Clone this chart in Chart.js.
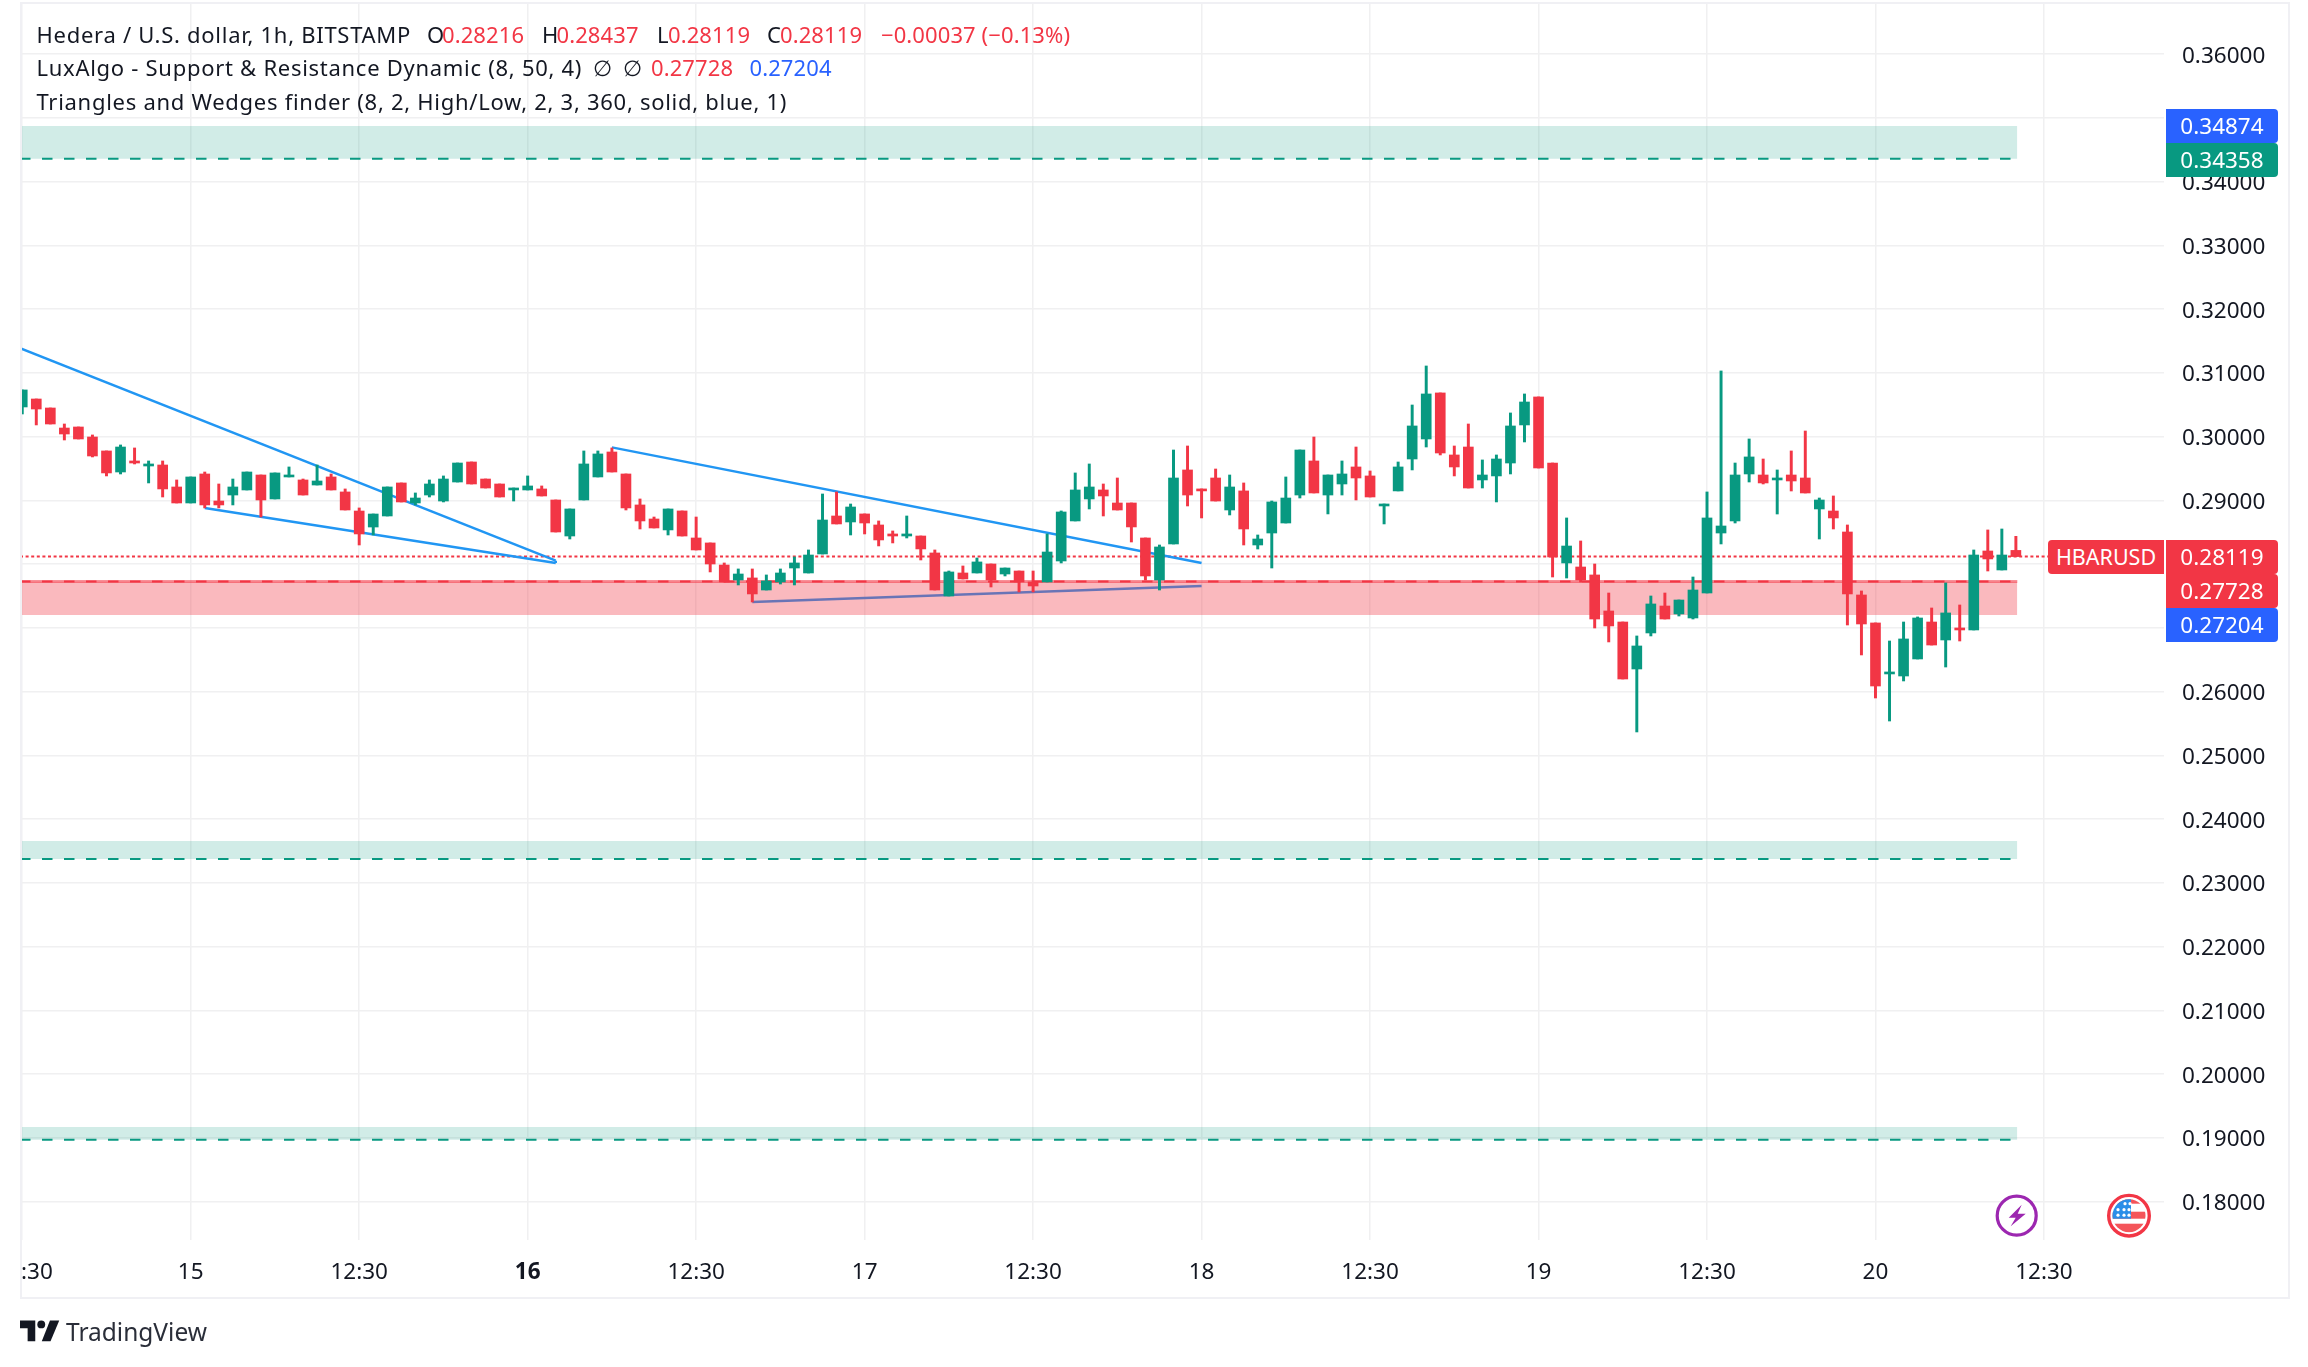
<!DOCTYPE html>
<html>
<head>
<meta charset="utf-8">
<script src="https://cdn.jsdelivr.net/npm/chart.js@4"></script>
<style>
html,body{margin:0;padding:0;background:#fff;width:2308px;height:1367px;overflow:hidden}
#wrap{position:relative;width:2308px;height:1367px}
canvas{position:absolute;left:0;top:0}
#frame{position:absolute;left:20px;top:2px;width:2266px;height:1293px;border:2px solid #f0f0f4;pointer-events:none}
.t{position:absolute;font-family:"Noto Sans",sans-serif;font-size:22px;line-height:34px;white-space:nowrap;color:#131722;letter-spacing:.72px}
.r{color:#f23645;letter-spacing:.1px}.b{color:#2962ff;letter-spacing:.1px}
.tag{position:absolute;height:34px;line-height:34px;color:#fff;font-family:"Noto Sans",sans-serif;font-size:22.5px;white-space:nowrap}
.val{left:2166px;width:112px;padding-left:0;text-align:center;border-radius:0 4px 4px 0}
</style>
</head>
<body>
<div id="wrap">
<canvas id="c" width="2308" height="1367"></canvas>
<div id="frame"></div>
<div id="legend"></div>
<div id="tags"></div>
<svg style="position:absolute;left:0;top:0;pointer-events:none" width="2308" height="1367">
  <g transform="translate(2016.7,1215.7)">
    <circle r="19.5" fill="#fff" stroke="#9c27b0" stroke-width="3.2"/>
    <path d="M5,-11 L-8,2 L-1,2 L-6,10.5 L9,-2 L1,-2 Z" fill="#9c27b0"/>
  </g>
  <g transform="translate(2129,1215.7)">
    <defs><clipPath id="fc"><circle r="16.5"/></clipPath></defs>
    <circle r="20.3" fill="#fff" stroke="#f23645" stroke-width="3.4"/>
    <g clip-path="url(#fc)">
      <rect x="-17" y="-17" width="34" height="34" fill="#fff"/>
      <rect x="-17" y="-17" width="34" height="5" fill="#f4555a"/>
      <rect x="-17" y="-4" width="34" height="7" fill="#f4555a"/>
      <rect x="-17" y="8" width="34" height="9" fill="#f4555a"/>
      <rect x="-17" y="-17" width="19" height="20" fill="#2b8ee8"/>
      <g fill="#fff"><circle cx="-4" cy="-12" r="1.6"/><circle cx="1" cy="-12" r="1.6"/><circle cx="-11" cy="-6" r="1.6"/><circle cx="-5" cy="-6" r="1.6"/><circle cx="-11" cy="-0.5" r="1.6"/><circle cx="-5" cy="-0.5" r="1.6"/><circle cx="0" cy="-6" r="1.6"/><circle cx="0" cy="-0.5" r="1.6"/></g>
    </g>
  </g>
  <g transform="translate(20,1320.5) scale(1.09)" fill="#131722">
    <path d="M14 0H0v7h7v12h7V0Z"/><circle cx="19.5" cy="3.6" r="3.6"/><path d="M28 19h-8L27.5 0H36l-8 19Z"/>
  </g>
</svg>
<div class="t" style="left:66px;top:1315px;font-size:24.5px;color:#2a2e39;letter-spacing:0">TradingView</div>
</div>
<script>
const tickHours = [-12,0,12,24,36,48,60,72,84,96,108,120,132];
const tickLabels = ["     :30","15","12:30","16","12:30","17","12:30","18","12:30","19","12:30","20","12:30"];
const boldTickHours = [24];
const priceTicks = [0.36,0.35,0.34,0.33,0.32,0.31,0.30,0.29,0.28,0.27,0.26,0.25,0.24,0.23,0.22,0.21,0.20,0.19,0.18];

const firstHour = -12;
const opens = [
.30466,.30591,.30450,.30136,.30152,.29995,.29776,.29446,.29619,.29540,.29556,.29211,
.28960,.29415,.28991,.29085,.29164,.29399,.29023,.29368,.29321,.29242,.29368,.29133,
.28834,.28583,.28756,.29274,.28960,.29085,.28991,.29289,.29603,.29336,.29258,.29164,
.29164,.29180,.29007,.28442,.29007,.29368,.29760,.29415,.28929,.28709,.28537,.28835,
.28411,.28333,.27987,.27752,.27784,.27595,.27721,.27940,.27862,.28160,.28756,.28662,
.28788,.28615,.28474,.28442,.28442,.28176,.27501,.27862,.27862,.28003,.27846,.27893,
.27721,.27721,.28050,.28678,.29023,.29164,.28960,.28960,.28411,.27752,.28317,.29478,
.29180,.29352,.28850,.29149,.28301,.28489,.28646,.29085,.29619,.29085,.29258,.29525,
.29384,.28913,.29149,.29650,.29964,.30686,.29713,.29838,.29321,.29384,.29587,.30184,
.30623,.29587,.28019,.27956,.27831,.27266,.27093,.26356,.26921,.27344,.27219,.27156,
.27548,.28489,.28678,.29415,.29399,.29321,.29399,.29352,.28866,.28834,.28505,.27517,
.27078,.26278,.26246,.26513,.27093,.26811,.26999,.26968,.28207,.27909,.28216];
const highs = [
.30733,.30591,.30450,.30199,.30152,.30027,.29776,.29870,.29823,.29619,.29619,.29321,
.29368,.29446,.29258,.29336,.29446,.29399,.29431,.29525,.29336,.29556,.29415,.29180,
.28882,.28787,.29211,.29274,.29117,.29321,.29384,.29587,.29603,.29336,.29258,.29195,
.29384,.29227,.29007,.28866,.29776,.29776,.29823,.29415,.29023,.28740,.28866,.28835,
.28740,.28333,.28019,.27925,.27925,.27831,.27925,.28113,.28223,.29101,.29133,.28944,
.28788,.28678,.28521,.28756,.28442,.28223,.27893,.27972,.28097,.28003,.27940,.27893,
.27893,.28474,.28835,.29431,.29572,.29258,.29352,.28960,.28411,.28301,.29791,.29854,
.29180,.29493,.29399,.29274,.28458,.28991,.29368,.29791,.29995,.29399,.29619,.29838,
.29462,.28944,.29603,.30497,.31109,.30686,.29854,.30199,.29635,.29713,.30372,.30670,
.30623,.29587,.28725,.28364,.28003,.27548,.27093,.26874,.27501,.27548,.27438,.27799,
.29133,.31031,.29587,.29964,.29650,.29478,.29776,.30089,.29038,.29070,.28615,.27580,
.27078,.26795,.27093,.27172,.27313,.27705,.27360,.28223,.28537,.28552,.28437];
const lows = [
.30356,.30184,.30199,.29948,.29964,.29682,.29384,.29415,.29572,.29274,.29054,.28960,
.28960,.28882,.28882,.28929,.29164,.28740,.29023,.29368,.29085,.29242,.29164,.28850,
.28301,.28458,.28756,.28976,.28929,.29054,.28976,.29289,.29258,.29195,.29054,.28991,
.29164,.29070,.28505,.28395,.29007,.29368,.29446,.28850,.28552,.28568,.28458,.28442,
.28223,.27878,.27721,.27674,.27407,.27595,.27689,.27674,.27862,.28160,.28631,.28458,
.28474,.28286,.28333,.28411,.28066,.27595,.27501,.27768,.27862,.27642,.27815,.27564,
.27564,.27721,.28019,.28678,.28866,.28756,.28850,.28348,.27752,.27595,.28317,.28913,
.28725,.28991,.28772,.28301,.28238,.27940,.28646,.29038,.29117,.28788,.29085,.29007,
.29054,.28631,.29149,.29478,.29838,.29713,.29384,.29195,.29195,.28976,.29415,.29917,
.29509,.27799,.27783,.27721,.26999,.26780,.26199,.25368,.26874,.27140,.27187,.27140,
.27548,.28317,.28646,.29289,.29258,.28787,.29148,.29117,.28395,.28552,.27046,.26576,
.25901,.25540,.26168,.26513,.26732,.26387,.26795,.26968,.27893,.27909,.28119];
const closes = [
.30733,.30434,.30199,.30042,.29964,.29697,.29431,.29838,.29587,.29572,.29180,.28960,
.29368,.28929,.28929,.29211,.29446,.29007,.29431,.29399,.29085,.29305,.29164,.28850,
.28474,.28787,.29211,.28976,.29038,.29258,.29336,.29587,.29258,.29195,.29054,.29195,
.29227,.29070,.28505,.28866,.29572,.29729,.29446,.28882,.28678,.28568,.28866,.28442,
.28223,.28003,.27721,.27846,.27533,.27737,.27862,.28019,.28144,.28693,.28631,.28897,
.28646,.28380,.28442,.28474,.28239,.27595,.27878,.27768,.28035,.27752,.27940,.27721,
.27658,.28191,.28819,.29164,.29211,.29070,.28850,.28584,.27815,.28270,.29352,.29085,
.29149,.28991,.29211,.28552,.28395,.28976,.29038,.29791,.29117,.29399,.29415,.29352,
.29054,.28944,.29525,.30168,.30670,.29744,.29525,.29195,.29399,.29650,.30168,.30544,
.29509,.28113,.28285,.27752,.27140,.27031,.26199,.26717,.27376,.27140,.27438,.27595,
.28725,.28599,.29399,.29682,.29274,.29352,.29305,.29117,.29007,.28725,.27533,.27062,
.26089,.26309,.26827,.27156,.26732,.27235,.26968,.28144,.28082,.28144,.28119];

const lastClose = 0.28119;
const resistanceTop = 0.34874, resistanceBottom = 0.34358;
const zone2Top = 0.23658, zone2Bottom = 0.23376;
const zone3Top = 0.19171, zone3Bottom = 0.18973;
const supportTop = 0.27728, supportBottom = 0.27204;

const wedgeA = [[-12.16,0.31387],[26,0.28055]];
const wedgeB = [[1,0.28882],[26,0.28019]];
const wedgeClose = [[26,0.28055],[26,0.28019]];
const wedgeC = [[30,0.29832],[72,0.28019]];
const wedgeD = [[40,0.27407],[72,0.27657]];

const hourMin = -12.16, hourMax = 140.55, zoneEnd = 130.1;
const priceMin = 0.17399, priceMax = 0.36787;

const GREEN = '#089981', RED = '#f23645', BLUE = '#2196f3';
const FONT = '"Noto Sans",sans-serif';
const hours = opens.map((_,i)=>firstHour+i);
const candleColors = opens.map((o,i)=> closes[i]>=o ? GREEN : RED);

const bodies = opens.map((o,i)=>({x:hours[i], y:[Math.min(o,closes[i]),Math.max(o,closes[i])]}));
const wicks = opens.map((o,i)=>({x:hours[i], y:[lows[i],highs[i]]}));

function flat(v, a=hourMin, b=zoneEnd){ return [{x:a,y:v},{x:b,y:v}]; }
function zone(top,bottom,order){
  return {type:'line',data:flat(top),borderWidth:0,pointRadius:0,order,
          backgroundColor:'rgba(8,153,129,0.19)',borderColor:'transparent',fill:{value:bottom}};
}
function dashed(v,color,order){
  return {type:'line',data:flat(v),borderColor:color,borderWidth:2,borderDash:[10.5,11.5],pointRadius:0,order,fill:false};
}
function seg(points,order){
  return {type:'line',data:points.map(p=>({x:p[0],y:p[1]})),borderColor:BLUE,borderWidth:2.5,pointRadius:0,order,fill:false,tension:0};
}

const overlay = {
  id:'overlay',
  beforeDraw(chart){
    const y = chart.scales.y;
    if (y.$nudged) return;
    y.$nudged = true;
    y.getLabelItems().forEach(item=>{ item.textOffset += 2; });
  },
  afterRender(chart){
    const tags = document.getElementById('tags');
    if (tags.dataset.done) return;
    tags.dataset.done = '1';
    const defs = [
      ['0.34874','#2962ff',109],
      ['0.34358',GREEN,143],
      ['0.28119',RED,540],
      ['0.27728',RED,574],
      ['0.27204','#2962ff',608]
    ];
    defs.forEach(d=>{
      const el=document.createElement('div');
      el.className='tag val'; el.textContent=d[0]; el.style.background=d[1];
      el.style.top=d[2]+'px';
      tags.appendChild(el);
    });
    const sym=document.createElement('div');
    sym.className='tag'; sym.textContent='HBARUSD';
    sym.style.cssText='left:2048px;top:540px;width:116px;text-align:center;background:'+RED+';border-radius:4px 0 0 4px;font-size:21.5px';
    tags.appendChild(sym);
  }
};

new Chart(document.getElementById('c'),{
  type:'bar',
  data:{datasets:[
    {type:'bar',data:bodies,backgroundColor:candleColors,barThickness:10,grouped:false,order:1,minBarLength:2},
    {type:'bar',data:wicks,backgroundColor:candleColors,barThickness:2.3,grouped:false,order:2},
    dashed(supportTop,RED,3),
    {type:'line',data:flat(supportTop),borderColor:'rgba(242,54,69,0.55)',borderWidth:3,pointRadius:0,order:4,fill:false},
    dashed(resistanceBottom,GREEN,5),
    dashed(zone2Bottom,GREEN,6),
    dashed(zone3Bottom,GREEN,7),
    {type:'line',data:flat(supportTop),borderWidth:0,pointRadius:0,order:8,backgroundColor:'rgba(242,54,69,0.35)',borderColor:'transparent',fill:{value:supportBottom}},
    zone(resistanceTop,resistanceBottom,9),
    zone(zone2Top,zone2Bottom,10),
    zone(zone3Top,zone3Bottom,11),
    seg(wedgeA,12),seg(wedgeB,13),seg(wedgeClose,14),seg(wedgeC,15),seg(wedgeD,16),
    {type:'line',data:flat(lastClose,hourMin,hourMax),borderColor:RED,borderWidth:2,borderDash:[3,2.6],pointRadius:0,order:17,fill:false}
  ]},
  options:{
    responsive:false,animation:false,devicePixelRatio:1,
    layout:{padding:{left:20,top:4,right:20,bottom:70},autoPadding:false},
    plugins:{legend:{display:false},tooltip:{enabled:false},title:{display:false}},
    scales:{
      x:{type:'linear',min:hourMin,max:hourMax,offset:false,
        afterBuildTicks(s){s.ticks=tickHours.map(v=>({value:v}));},
        afterFit(s){s.height=57;s.paddingLeft=0;s.paddingRight=0;},
        grid:{color:'#f0f0f1',lineWidth:1.5,drawTicks:false,offset:false},
        border:{display:false},
        ticks:{autoSkip:false,maxRotation:0,minRotation:0,padding:19,color:'#131722',
          font:(ctx)=>({family:FONT,size:22.5,weight:ctx.tick&&boldTickHours.includes(ctx.tick.value)?'bold':'normal'}),
          callback(v){const i=tickHours.indexOf(v);return i<0?'':tickLabels[i];}}
      },
      y:{type:'linear',position:'right',min:priceMin,max:priceMax,
        afterBuildTicks(s){s.ticks=priceTicks.map(v=>({value:v}));},
        afterFit(s){s.width=124;s.paddingTop=0;s.paddingBottom=0;},
        grid:{color:'#f0f0f1',lineWidth:1.5,drawTicks:false},
        border:{display:false},
        ticks:{autoSkip:false,padding:18,color:'#131722',
          font:{family:FONT,size:22.5},
          callback(v){return Number(v).toFixed(5);}}
      }
    }
  },
  plugins:[overlay]
});

const legendRows = [
 [16.5,[[36.5,'Hedera / U.S. dollar, 1h, BITSTAMP',''],[427,'O',''],[442,'0.28216','r'],[542,'H',''],[556.5,'0.28437','r'],[657,'L',''],[668,'0.28119','r'],[767,'C',''],[780,'0.28119','r'],[881,'−0.00037 (−0.13%)','r']]],
 [49.5,[[36.5,'LuxAlgo - Support & Resistance Dynamic (8, 50, 4)',''],[593,'∅',''],[623,'∅',''],[651,'0.27728','r'],[749.5,'0.27204','b']]],
 [83.5,[[36.5,'Triangles and Wedges finder (8, 2, High/Low, 2, 3, 360, solid, blue, 1)','']]]
];
const lg=document.getElementById('legend');
legendRows.forEach(([top,items])=>items.forEach(([x,txt,cls])=>{
  const s=document.createElement('div');s.className='t '+cls;s.style.left=x+'px';s.style.top=top+'px';s.textContent=txt;lg.appendChild(s);
}));
</script>
</body>
</html>
